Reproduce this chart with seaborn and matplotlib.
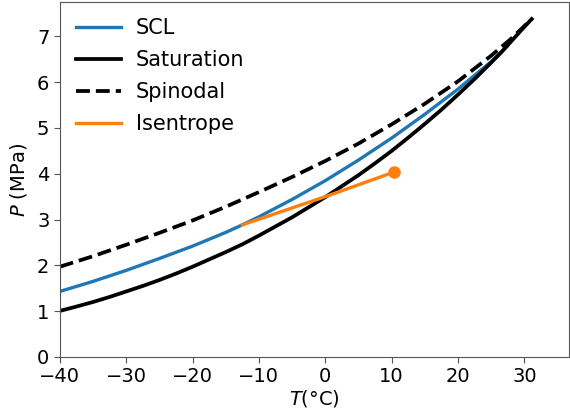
import matplotlib
matplotlib.use("Agg")
import matplotlib.pyplot as plt
import seaborn as sns
import pandas as pd

# Saturation curve
sat_T = [-40, -37.5, -35, -32.5, -30, -27.5, -25, -22.5, -20, -17.5, -15, -12.5, -10, -7.5, -5, -2.5,
         0, 2.5, 5, 7.5, 10, 12.5, 15, 17.5, 20, 22.5, 25, 26.5, 28, 29.5, 31.1]
sat_P = [1.005, 1.10, 1.20, 1.31, 1.43, 1.55, 1.68, 1.82, 1.97, 2.13, 2.29, 2.46, 2.65, 2.85, 3.05, 3.27,
         3.49, 3.73, 3.97, 4.23, 4.50, 4.79, 5.09, 5.40, 5.73, 6.07, 6.43, 6.65, 6.89, 7.13, 7.38]

# Spinodal curve
spin_T = [-40, -35, -30, -25, -20, -15, -10, -5, 0, 5, 10, 15, 20, 25, 28, 31.1]
spin_P = [1.97, 2.20, 2.45, 2.71, 2.98, 3.28, 3.60, 3.93, 4.28, 4.66, 5.08, 5.53, 6.02, 6.58, 6.95, 7.38]

# SCL curve
scl_T = [-40, -35, -30, -25, -20, -15, -12.5, -10, -5, 0, 5, 10, 15, 20, 25, 27.5]
scl_P = [1.43, 1.65, 1.89, 2.15, 2.42, 2.72, 2.885, 3.06, 3.44, 3.85, 4.30, 4.78, 5.30, 5.85, 6.45, 6.80]

# Isentrope
isen_T = [-12.5, 0, 10.4]
isen_P = [2.885, 3.50, 4.04]

plt.rcParams["font.family"] = ["DejaVu Sans"]
plt.rcParams["mathtext.fontset"] = "dejavusans"

fig, ax = plt.subplots(figsize=(5.7, 4.16), dpi=100)
fig.subplots_adjust(left=0.105, right=0.998, bottom=0.142, top=0.995)

lw = 2.4
sns.lineplot(data=pd.DataFrame({"T": scl_T, "P": scl_P}), x="T", y="P", ax=ax,
             color="#1f77b4", linewidth=lw, label="SCL", sort=False)
sns.lineplot(data=pd.DataFrame({"T": sat_T, "P": sat_P}), x="T", y="P", ax=ax,
             color="black", linewidth=lw + 0.3, label="Saturation", sort=False)
sns.lineplot(data=pd.DataFrame({"T": spin_T, "P": spin_P}), x="T", y="P", ax=ax,
             color="black", linewidth=lw + 0.3, linestyle="--", label="Spinodal", sort=False)
sns.lineplot(data=pd.DataFrame({"T": isen_T, "P": isen_P}), x="T", y="P", ax=ax,
             color="#ff7f0e", linewidth=lw, label="Isentrope", sort=False)
ax.plot(isen_T[-1:], isen_P[-1:], marker="o", color="#ff7f0e", markersize=8, linestyle="none")

ax.set_xlim(-40, 36.7)
ax.set_ylim(0, 7.75)
ax.set_xticks([-40, -30, -20, -10, 0, 10, 20, 30])
ax.set_yticks([0, 1, 2, 3, 4, 5, 6, 7])
ax.set_xlabel(r"$T$(°C)", fontsize=14, labelpad=1)
ax.set_ylabel(r"$P$ (MPa)", fontsize=14, labelpad=6)
ax.tick_params(labelsize=14, color="#555555", length=4)
for s in ax.spines.values():
    s.set_visible(True)
    s.set_color("#555555")

ax.legend(loc="upper left", frameon=False, fontsize=15, handlelength=2.15,
          handletextpad=0.72, borderaxespad=0.37, labelspacing=0.58)

fig.savefig("out.png", dpi=100)
